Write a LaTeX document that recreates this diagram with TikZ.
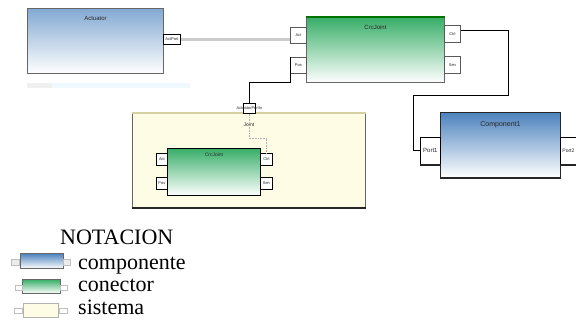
\documentclass[tikz,border=0pt]{standalone}
\usepackage{fontspec}
\setmainfont{Liberation Serif}
\newfontfamily\labelfont{Liberation Sans}
\definecolor{compblue}{HTML}{82A9D2}
\definecolor{compdark}{HTML}{4C82BD}
\definecolor{conngreen}{HTML}{38AE68}
\definecolor{syscream}{HTML}{FFFCE6}
\tikzset{%
  block/.style = {draw=gray!80!black, line width=0.9pt, anchor=north west,
    inner sep=0pt},
  comp/.style = {block, top color=compblue, bottom color=white},
  conn/.style = {block, top color=conngreen, bottom color=white},
  sys/.style = {block, fill=syscream},
  title/.style = {anchor=north, inner sep=8pt, text=gray!30!black,
    font=\labelfont\fontsize{6}{6}\selectfont},
  port/.style = {draw=gray!70!black, fill=white, line width=0.8pt,
    anchor=north west, inner sep=0pt, text=gray!30!black,
    font=\labelfont\fontsize{4}{4}\selectfont},
  link/.style = {draw=gray!40, line width=3pt},
  wire/.style = {draw=black, line width=1pt},
  dotwire/.style = {draw=gray!60, densely dotted, line width=0.6pt},
  legend/.style = {anchor=base west, inner sep=0pt,
    font=\fontsize{22}{22}\selectfont}
}
\begin{document}
\begin{tikzpicture}[x=1pt, y=-1pt]
\useasboundingbox (0,0) rectangle (576,328);

% actuator component
\node[comp, minimum width=136pt, minimum height=65pt,
  label={[title]north:Actuator}] (act) at (27,8) {};
\node[port, draw=black, minimum width=17pt, minimum height=10pt] (actP) at (163,34) {ActPort};
\fill[cyan!6] (27,83) rectangle (190,88);
\fill[gray!12] (27,83) rectangle (52,88);

% connector with its four ports
\node[conn, minimum width=138pt, minimum height=65pt,
  label={[title]north:CrcJoint}] (cj) at (306,17) {};
\draw[green!45!black, line width=1.5pt] (cj.north west) -- (cj.north east);
\node[port, minimum width=16pt, minimum height=16pt] (cjA) at (290,27) {Act};
\node[port, minimum width=16pt, minimum height=16pt] (cjP) at (290,57) {Pos};
\node[port, minimum width=16pt, minimum height=17pt] (cjC) at (444,25) {Ctrl};
\node[port, minimum width=16pt, minimum height=17pt] (cjS) at (444,56) {Sen};

% joint system
\node[sys, minimum width=233pt, minimum height=94pt,
  label={[title, font=\labelfont\fontsize{5}{5}\selectfont, inner sep=10pt]north:Joint}] (joint) at (132,113) {};
\draw[gray!45!olive!40, line width=2.5pt] (joint.north west) -- (joint.north east);
\draw[gray!30!black, line width=1.6pt] (joint.south west) -- (joint.south east);
\node[port, draw=black, minimum width=12pt, minimum height=10pt,
  label={[inner sep=0pt, font=\labelfont\fontsize{4}{4}\selectfont, text=gray!30!black]center:ActuatorPortIn}] (jP) at (243,103) {};

% inner connector
\node[conn, draw=black, minimum width=93pt, minimum height=47pt,
  label={[title, font=\labelfont\fontsize{5}{5}\selectfont, inner sep=5pt]north:CrcJoint}] (icj) at (167,148) {};
\node[port, draw=black, minimum width=11pt, minimum height=12pt] (icA) at (156,153) {Act};
\node[port, draw=black, minimum width=11pt, minimum height=12pt] (icP) at (156,177) {Pos};
\node[port, draw=black, minimum width=12pt, minimum height=12pt] (icC) at (260,153) {Ctrl};
\node[port, draw=black, minimum width=12pt, minimum height=12pt] (icS) at (260,177) {Sen};

% second component
\node[comp, top color=compdark, draw=gray!30!black, minimum width=120pt, minimum height=65pt,
  label={[title, font=\labelfont\fontsize{7}{7}\selectfont, inner sep=9pt]north:Component1}] (c1) at (440,112) {};
\draw[gray!30!black, line width=2pt] (c1.south west) -- (c1.south east);
\node[port, draw=black, minimum width=20pt, minimum height=27pt,
  font=\labelfont\fontsize{6}{6}\selectfont] (p1) at (420,137) {Port1};
\node[port, draw=black, minimum width=16pt, minimum height=27pt,
  font=\labelfont\fontsize{5}{5}\selectfont] (p2) at (560,137) {Port2};
\draw[gray!30!black, line width=2pt] (p1.south west) -- (p1.south east);
\draw[gray!30!black, line width=2pt] (p2.south west) -- (p2.south east);

% links between ports
\draw[link] (actP.east) -- (actP.east -| cjA.west);
\draw[wire] (cjP.north west) -- ++(0,26) -| (jP.north);
\draw[dotwire] (jP.south) -- ++(0,25) -| (icC.north);
\draw[wire] ([yshift=3pt]cjC.east) -| (508,96) -- (413,96) |- (p1.west);

% notation
\node[legend] (lgTitle) at (60,245) {NOTACION};
\node[comp, top color=compdark, minimum width=43pt, minimum height=15pt] (lgComp) at (20,253) {};
\node[port, fill=gray!15, draw=gray!50, minimum width=8pt, minimum height=6pt] (lgCompL) at (11,259) {};
\node[port, fill=gray!15, draw=gray!50, minimum width=7pt, minimum height=6pt] (lgCompR) at (63,259) {};
\node[legend] (lgCompT) at (78,270) {componente};
\node[conn, minimum width=38pt, minimum height=14pt] (lgConn) at (22,279) {};
\node[port, draw=gray!50, minimum width=7pt, minimum height=5pt] (lgConnL) at (15,285) {};
\node[port, draw=gray!50, minimum width=7pt, minimum height=5pt] (lgConnR) at (60,285) {};
\node[legend] (lgConnT) at (78,292) {conector};
\node[sys, draw=gray!60, minimum width=35pt, minimum height=14pt] (lgSys) at (23,303) {};
\node[port, draw=gray!50, minimum width=8pt, minimum height=5pt] (lgSysL) at (14,308) {};
\node[port, draw=gray!50, minimum width=8pt, minimum height=5pt] (lgSysR) at (59,308) {};
\node[legend] (lgSysT) at (78,315) {sistema};
\end{tikzpicture}
\end{document}
